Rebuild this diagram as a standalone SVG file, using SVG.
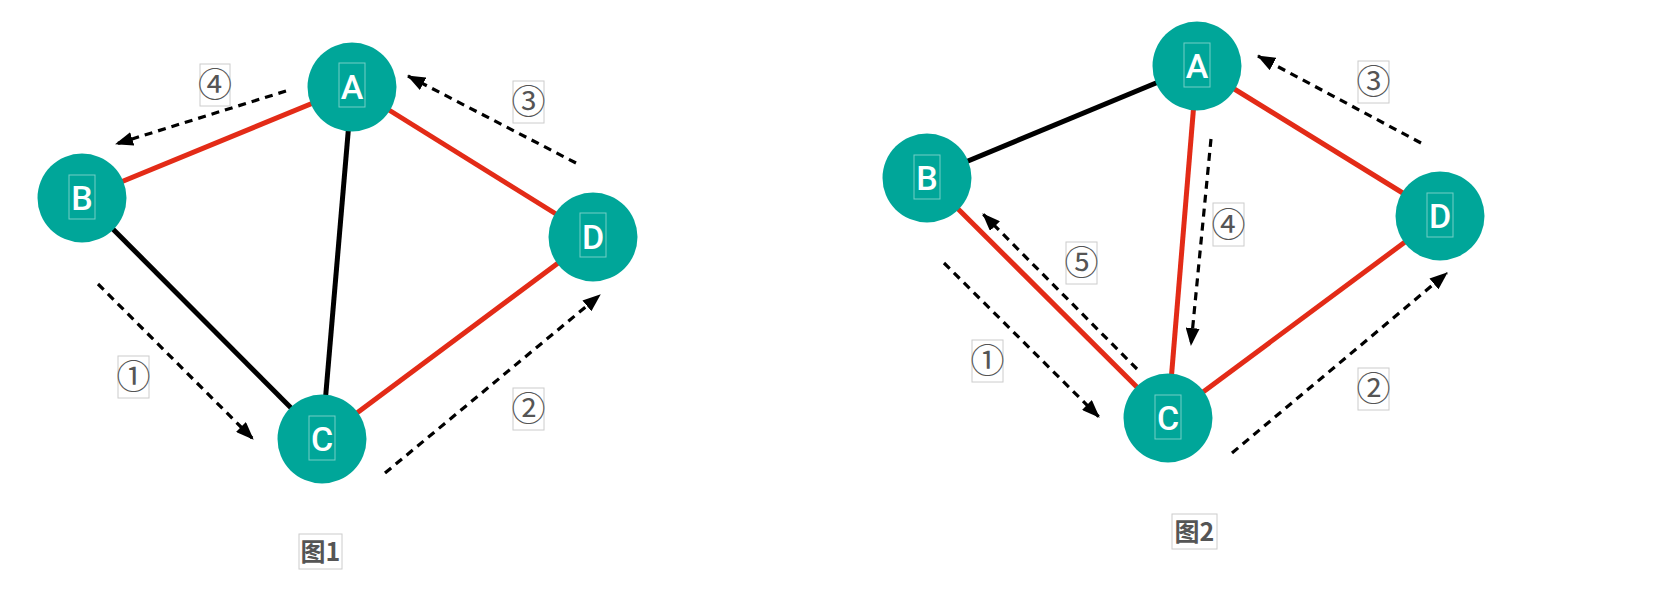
<svg xmlns="http://www.w3.org/2000/svg" width="1654" height="592" viewBox="0 0 1654 592">
<style>
.bg{fill:#ffffff}
.red{stroke:#E32B17;stroke-width:5;fill:none}
.blk{stroke:#000000;stroke-width:5;fill:none}
.dash{stroke:#000000;stroke-width:3.2;stroke-dasharray:8 6;fill:none;marker-end:url(#ah)}
.node{fill:#00A699}
.nbox{fill:none;stroke:#ffffff;stroke-opacity:0.45;stroke-width:1}
.ntxt{fill:#ffffff;font-family:Roboto,"Liberation Sans",Arial,sans-serif;font-size:34px;font-weight:500;text-anchor:middle}
.lbox{fill:none;stroke:#cccccc;stroke-width:1}
.ltxt{fill:#555555;font-family:"Noto Sans CJK SC","DejaVu Sans",sans-serif;font-size:34px;text-anchor:middle}
.cap{fill:#555555;font-family:"Noto Sans CJK SC",sans-serif;font-size:25px;font-weight:bold;text-anchor:middle}
</style>
<defs>
<marker id="ah" viewBox="0 0 18 14" refX="17" refY="7" markerWidth="18" markerHeight="14" markerUnits="userSpaceOnUse" orient="auto">
<path d="M0,0 L18,7 L0,14 z" fill="#000000"/>
</marker>
</defs>
<rect class="bg" x="0" y="0" width="1654" height="592"/>

<g id="connectors">
<line class="red" x1="352" y1="87" x2="82" y2="198"/>
<line class="red" x1="352" y1="87" x2="593" y2="237"/>
<line class="red" x1="322" y1="439" x2="593" y2="237"/>
<line class="blk" x1="352" y1="87" x2="322" y2="439"/>
<line class="blk" x1="82" y1="198" x2="322" y2="439"/>
<line class="dash" x1="286" y1="91" x2="116" y2="144"/>
<line class="dash" x1="576" y1="163" x2="408" y2="76"/>
<line class="dash" x1="98" y1="284" x2="253" y2="439"/>
<line class="dash" x1="385" y1="473" x2="600" y2="295"/>
<line class="blk" x1="1197" y1="66" x2="927" y2="178"/>
<line class="red" x1="1197" y1="66" x2="1168" y2="418"/>
<line class="red" x1="1197" y1="66" x2="1440" y2="216"/>
<line class="red" x1="927" y1="178" x2="1168" y2="418"/>
<line class="red" x1="1168" y1="418" x2="1440" y2="216"/>
<line class="dash" x1="1421" y1="143" x2="1258" y2="56"/>
<line class="dash" x1="1211" y1="139" x2="1191" y2="345"/>
<line class="dash" x1="1137" y1="369" x2="983" y2="214"/>
<line class="dash" x1="944" y1="263" x2="1099" y2="417"/>
<line class="dash" x1="1232" y1="453" x2="1447" y2="273"/>
</g>

<g id="fig1-A"><circle class="node" cx="352" cy="87" r="44.5"/><rect class="nbox" x="339" y="63" width="26" height="44"/><text class="ntxt" x="352" y="99">A</text></g>
<g id="fig1-B"><circle class="node" cx="82" cy="198" r="44.5"/><rect class="nbox" x="69" y="175" width="26" height="44"/><text class="ntxt" x="82" y="210">B</text></g>
<g id="fig1-C"><circle class="node" cx="322" cy="439" r="44.5"/><rect class="nbox" x="309" y="416" width="26" height="44"/><text class="ntxt" x="322" y="451">C</text></g>
<g id="fig1-D"><circle class="node" cx="593" cy="237" r="44.5"/><rect class="nbox" x="580" y="213" width="26" height="44"/><text class="ntxt" x="593" y="249">D</text></g>

<g id="fig2-A"><circle class="node" cx="1197" cy="66" r="44.5"/><rect class="nbox" x="1184" y="43" width="26" height="44"/><text class="ntxt" x="1197" y="78">A</text></g>
<g id="fig2-B"><circle class="node" cx="927" cy="178" r="44.5"/><rect class="nbox" x="914" y="155" width="26" height="44"/><text class="ntxt" x="927" y="190">B</text></g>
<g id="fig2-C"><circle class="node" cx="1168" cy="418" r="44.5"/><rect class="nbox" x="1155" y="395" width="26" height="44"/><text class="ntxt" x="1168" y="430">C</text></g>
<g id="fig2-D"><circle class="node" cx="1440" cy="216" r="44.5"/><rect class="nbox" x="1427" y="193" width="26" height="44"/><text class="ntxt" x="1440" y="228">D</text></g>

<g id="fig1-labels">
<rect class="lbox" x="200" y="64" width="30" height="42"/><text class="ltxt" x="215" y="97">④</text>
<rect class="lbox" x="513" y="81" width="31" height="42"/><text class="ltxt" x="528.5" y="114">③</text>
<rect class="lbox" x="118" y="356" width="31" height="42"/><text class="ltxt" x="133.5" y="389">①</text>
<rect class="lbox" x="513" y="388" width="31" height="42"/><text class="ltxt" x="528.5" y="421">②</text>
</g>
<g id="fig2-labels">
<rect class="lbox" x="1358" y="61" width="31" height="42"/><text class="ltxt" x="1373.5" y="94">③</text>
<rect class="lbox" x="1213" y="203" width="31" height="43"/><text class="ltxt" x="1228.5" y="237">④</text>
<rect class="lbox" x="1066" y="242" width="31" height="42"/><text class="ltxt" x="1081.5" y="275">⑤</text>
<rect class="lbox" x="972" y="340" width="31" height="42"/><text class="ltxt" x="987.5" y="373">①</text>
<rect class="lbox" x="1358" y="368" width="31" height="42"/><text class="ltxt" x="1373.5" y="401">②</text>
</g>

<g id="caption1"><rect class="lbox" x="299" y="534" width="43" height="35"/><text class="cap" x="320.5" y="561">图1</text></g>
<g id="caption2"><rect class="lbox" x="1172" y="514" width="45" height="35"/><text class="cap" x="1194.5" y="541">图2</text></g>
</svg>
